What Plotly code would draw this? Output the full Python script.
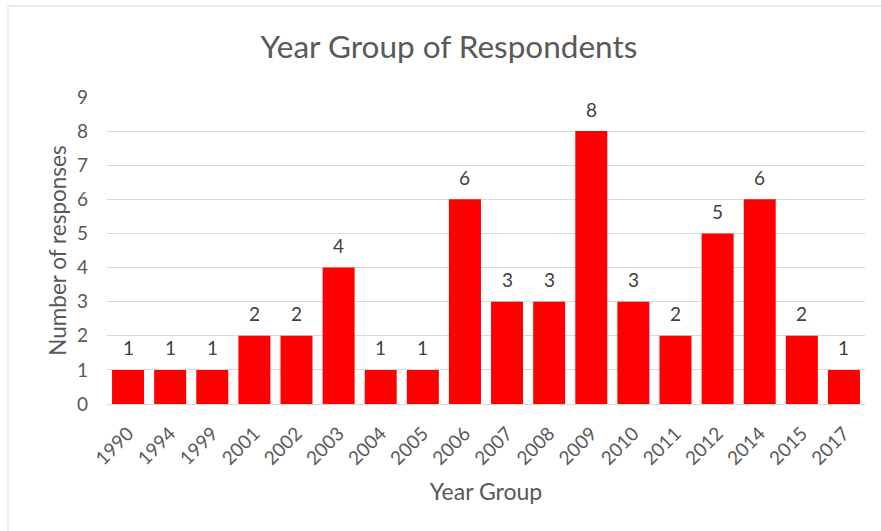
import plotly.graph_objects as go

years = ["1990", "1994", "1999", "2001", "2002", "2003", "2004", "2005", "2006",
         "2007", "2008", "2009", "2010", "2011", "2012", "2014", "2015", "2017"]
responses = [1, 1, 1, 2, 2, 4, 1, 1, 6, 3, 3, 8, 3, 2, 5, 6, 2, 1]
y_ticks = [0, 1, 2, 3, 4, 5, 6, 7, 8, 9]

W, H = 881, 531
ml, mr, mt, mb = 107, 16, 97, 127
pw, ph = W - ml - mr, H - mt - mb

def px_x(px):
    return (px - ml) / pw

def px_y(py):
    return (H - mb - py) / ph

grey = "#595959"
font = "Lato"

fig = go.Figure(go.Bar(
    x=years, y=responses,
    marker=dict(color="#ff0000", line=dict(width=0)),
    hoverinfo="x+y",
))

# data labels: category index positions on the category axis
annotations = [
    dict(x=i, y=v, xref="x", yref="y", text=str(v), showarrow=False,
         yanchor="middle", yshift=22,
         font=dict(size=19, color="#404040", family=font))
    for i, v in enumerate(responses)
]

fig.update_layout(
    width=W, height=H,
    margin=dict(l=ml, r=mr, t=mt, b=mb, autoexpand=False),
    paper_bgcolor="white", plot_bgcolor="white",
    bargap=0.24,
    showlegend=False,
    font=dict(family=font, color=grey),
    title=dict(text="Year Group of Respondents", x=449 / W, xanchor="center",
               y=1 - 47 / H, yanchor="middle",
               font=dict(size=31.5, color=grey, family=font)),
    xaxis=dict(type="category", categoryorder="array", categoryarray=years,
               tickangle=-45, tickfont=dict(size=19, color=grey),
               showgrid=False, showline=True, linecolor="#d9d9d9", linewidth=1,
               ticks="", automargin=False, ticklabelstandoff=10,
               title=dict(text="Year Group", font=dict(size=23, color=grey), standoff=15)),
    yaxis=dict(range=[0, 9], tickvals=y_ticks, tickfont=dict(size=19, color=grey),
               showgrid=True, gridcolor="#d9d9d9", gridwidth=1, zeroline=False,
               ticks="", ticklabelstandoff=18, automargin=False,
               title=dict(text="Number of responses", font=dict(size=22.5, color=grey), standoff=4)),
    annotations=annotations,
    shapes=[
        dict(type="line", xref="paper", yref="paper",
             x0=px_x(8), x1=px_x(890), y0=px_y(6), y1=px_y(6),
             line=dict(color="#d9d9d9", width=1)),
        dict(type="line", xref="paper", yref="paper",
             x0=px_x(8), x1=px_x(8), y0=px_y(6), y1=px_y(540),
             line=dict(color="#d9d9d9", width=1)),
    ],
)

fig.write_html("out.html", config={"displayModeBar": False},
               post_script="document.body.style.margin='0';document.body.style.overflow='hidden';")
